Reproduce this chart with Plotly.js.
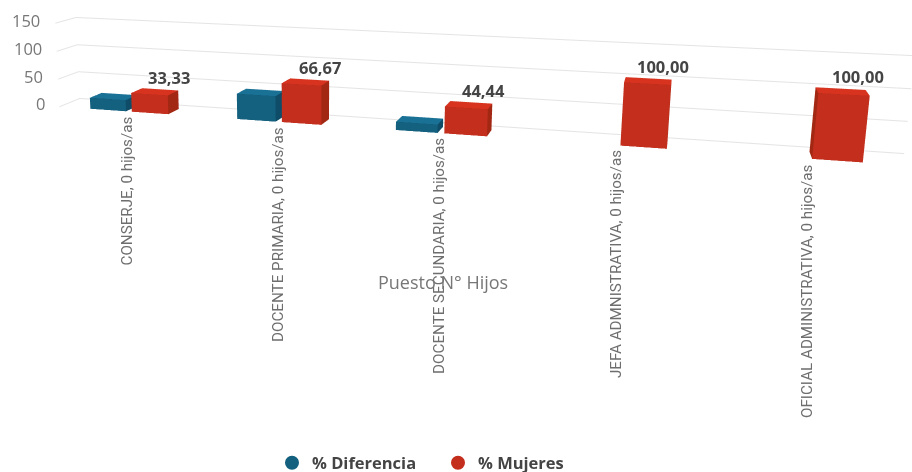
<!DOCTYPE html>
<html><head><meta charset="utf-8">
<script src="https://cdn.plot.ly/plotly-3.0.1.min.js"></script>
<style>html,body{margin:0;padding:0;width:912px;height:472px;overflow:hidden;background:#fff}
#chart{position:absolute;left:-272px;top:-377px;width:1184px;height:994px}</style>
</head><body><div id="chart"></div>
<script>
var categories = ["CONSERJE, 0 hijos/as","DOCENTE PRIMARIA, 0 hijos/as","DOCENTE SECUNDARIA, 0 hijos/as","JEFA ADMNISTRATIVA, 0 hijos/as","OFICIAL ADMINISTRATIVA, 0 hijos/as"];
var diferencia = [20, 44, 14, 0, 0];
var mujeres = [33.33, 66.67, 44.44, 100, 100];
var valueLabels = ["33,33","66,67","44,44","100,00","100,00"];
var yTicks = [0, 50, 100, 150];
var xTitle = "Puesto N° Hijos";

var W = 1184, H = 994, L = 272, T = 377; // page-to-plot offsets
var barW = 0.25, barD = 0.6;

function cuboids(values, x0, colors, name) {
  var xs=[],ys=[],zs=[],I=[],J=[],K=[],fc=[];
  values.forEach(function(v,c){
    if(!v) return;
    var a=c+x0, b=a+barW, n=xs.length;
    [[a,0,0],[b,0,0],[b,barD,0],[a,barD,0],[a,0,v],[b,0,v],[b,barD,v],[a,barD,v]].forEach(function(p){xs.push(p[0]);ys.push(p[1]);zs.push(p[2]);});
    [[0,1,5,colors.front],[0,5,4,colors.front],[1,2,6,colors.side],[1,6,5,colors.side],[4,5,6,colors.top],[4,6,7,colors.top],
     [3,2,6,colors.side],[3,6,7,colors.side],[0,3,7,colors.side],[0,7,4,colors.side],[0,1,2,colors.side],[0,2,3,colors.side]].forEach(function(f){
      I.push(n+f[0]);J.push(n+f[1]);K.push(n+f[2]);fc.push(f[3]);});
  });
  return {type:'mesh3d',x:xs,y:ys,z:zs,i:I,j:J,k:K,facecolor:fc,flatshading:true,showlegend:false,hoverinfo:'skip',name:name,
    lighting:{ambient:1,diffuse:0,specular:0,roughness:1,fresnel:0},lightposition:{x:0,y:0,z:1000}};
}
function legendItem(name,color){
  return {type:'scatter3d',mode:'markers',x:[null],y:[null],z:[null],name:name,showlegend:true,hoverinfo:'skip',marker:{size:16,color:color,line:{width:2,color:color}}};
}
var blue={front:'#14607f',top:'#1a7196',side:'#0e4c68'}, red={front:'#c42e1d',top:'#d8331f',side:'#a32814'};
var traces=[cuboids(diferencia,-0.28,blue,'% Diferencia'),cuboids(mujeres,0.01,red,'% Mujeres'),legendItem('% Diferencia','#14607f'),legendItem('% Mujeres','#c42e1d')];

var ann=[];
var gray='#6e6e6e';
categories.forEach(function(t,i){
  ann.push({x:i,y:0,z:0,text:t,showarrow:false,textangle:-90,xanchor:'center',yanchor:'top',xshift:-3,yshift:-3,font:{family:'Roboto',size:15.2,color:gray}});
});
mujeres.forEach(function(v,i){
  ann.push({x:i+0.275,y:barD,z:v,text:'<b>'+valueLabels[i]+'</b>',showarrow:false,xanchor:'center',yanchor:'bottom',xshift:-11,yshift:0,font:{family:'Open Sans',size:16.5,color:'#444'}});
});
yTicks.forEach(function(v){
  ann.push({x:-0.5,y:0,z:v,text:String(v),showarrow:false,xanchor:'right',yanchor:'middle',xshift:-13,yshift:3,font:{family:'Open Sans',size:16.5,color:'#777'}});
});
ann.push({x:2,y:0,z:0,text:xTitle,showarrow:false,xanchor:'center',yanchor:'middle',yshift:-149,font:{family:'Open Sans',size:18,color:'#777'}});

function hidden(range){return {range:range,autorange:false,showgrid:false,zeroline:false,showline:false,showticklabels:false,ticks:'',showbackground:false,showspikes:false,title:{text:''}};}
var zAxis=hidden([0,150]); zAxis.showgrid=true; zAxis.gridcolor='#e4e4e4'; zAxis.gridwidth=2; zAxis.tickvals=yTicks; zAxis.tickmode='array';

var layout={width:W,height:H,margin:{l:0,r:0,t:0,b:0},paper_bgcolor:'#fff',
  showlegend:true,
  legend:{orientation:'h',x:(272+L)/W,y:1-(463+T)/H,xanchor:'left',yanchor:'middle',itemsizing:'constant',entrywidth:121,entrywidthmode:'pixels',font:{family:'Open Sans',size:16.5,color:'#444',weight:700},bgcolor:'rgba(0,0,0,0)'},
  scene:{domain:{x:[0,1],y:[0,1]},aspectmode:'manual',aspectratio:{x:3.05,y:0.165,z:0.33},
    camera:{eye:{x:0.797,y:-4.1825,z:0.835},center:{x:-0.4285,y:-0.174,z:-0.125},up:{x:0,y:0,z:1},projection:{type:'perspective'}},
    xaxis:hidden([-0.5,4.5]),yaxis:hidden([0,1]),zaxis:zAxis,annotations:ann,dragmode:false}};
Plotly.newPlot('chart',traces,layout,{displayModeBar:false,scrollZoom:false});
</script></body></html>
